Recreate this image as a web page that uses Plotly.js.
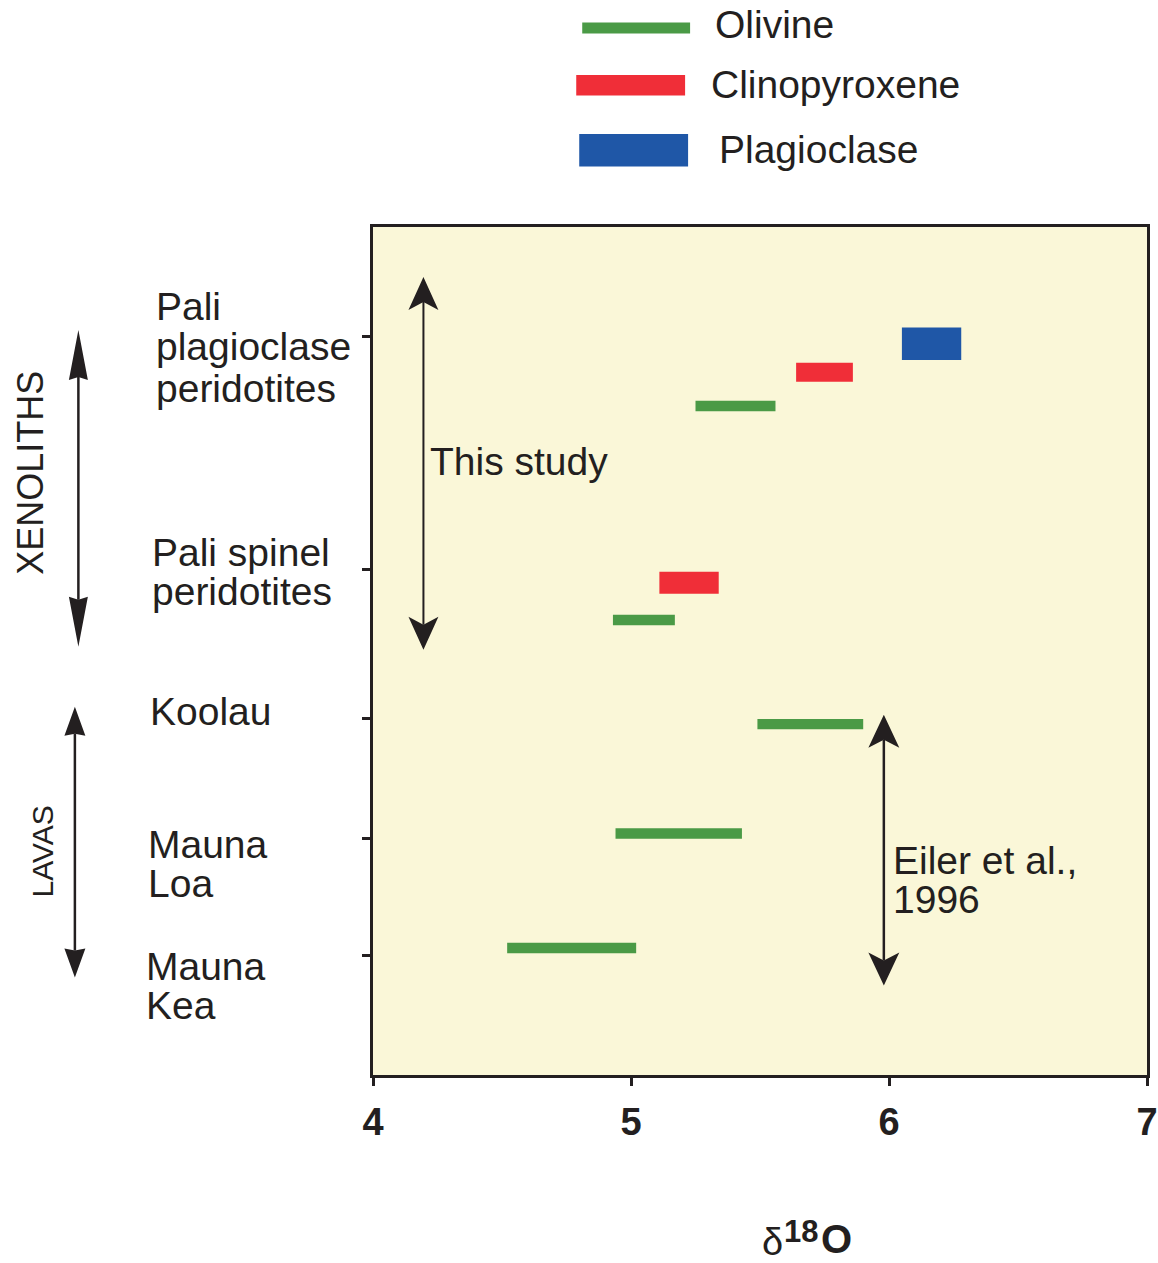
<!DOCTYPE html>
<html>
<head>
<meta charset="utf-8">
<script src="https://cdn.plot.ly/plotly-3.0.1.min.js"></script>
<style>html,body{margin:0;padding:0;background:#fff;}#chart{width:1158px;height:1263px;}</style>
</head>
<body>
<div id="chart"></div>
<script>
// ---- data ----
const categories = ['Pali\nplagioclase\nperidotites', 'Pali spinel\nperidotites', 'Koolau', 'Mauna\nLoa', 'Mauna\nKea'];
const categoryTickY = [7.40, 5.07, 3.57, 2.37, 1.20];
const xTicks = [4, 5, 6, 7];

const olivineY   = [6.705, 4.56, 3.517, 2.42, 1.272];
const olivineMin = [5.25, 4.93, 5.49, 4.94, 4.52];
const olivineMax = [5.56, 5.17, 5.90, 5.43, 5.02];

const cpxY   = [7.045, 4.935];
const cpxMin = [5.64, 5.11];
const cpxMax = [5.86, 5.34];

const plagY   = [7.33];
const plagMin = [6.05];
const plagMax = [6.28];

const legendNames = ['Olivine', 'Clinopyroxene', 'Plagioclase'];

// ---- geometry helpers ----
const W = 1158, H = 1263, L = 372.5, R = 1147.5, T = 227, B = 1075.5;
const fx = x => (x - L) / (R - L);
const fy = y => (B - y) / (B - T);
const INK = '#231F20';
const FONT = 'Liberation Sans, Arial, Helvetica, sans-serif';
const GREEN = '#4A9A46', RED = '#F02E38', BLUE = '#1F57A7';
const FS = 39;

function span(mn, mx) { return mx.map((v, i) => v - mn[i]); }

const traces = [
  { type: 'bar', orientation: 'h', y: olivineY, base: olivineMin, x: span(olivineMin, olivineMax),
    width: 0.105, marker: { color: GREEN, line: { width: 0 } }, name: legendNames[0], hoverinfo: 'skip' },
  { type: 'bar', orientation: 'h', y: cpxY, base: cpxMin, x: span(cpxMin, cpxMax),
    width: [0.19, 0.22], marker: { color: RED, line: { width: 0 } }, name: legendNames[1], hoverinfo: 'skip' },
  { type: 'bar', orientation: 'h', y: plagY, base: plagMin, x: span(plagMin, plagMax),
    width: 0.326, marker: { color: BLUE, line: { width: 0 } }, name: legendNames[2], hoverinfo: 'skip' }
];

const shapes = [];
const annotations = [];

function rectPx(x0, y0, x1, y1, color) {
  shapes.push({ type: 'rect', xref: 'paper', yref: 'paper', x0: fx(x0), x1: fx(x1), y0: fy(y1), y1: fy(y0),
    fillcolor: color, line: { width: 0 }, layer: 'above' });
}
function textPx(text, x, yMid, size, opts, fontExtra) {
  annotations.push(Object.assign({ xref: 'paper', yref: 'paper', x: fx(x), y: fy(yMid), text: text,
    showarrow: false, xanchor: 'left', yanchor: 'middle',
    font: Object.assign({ family: FONT, size: size, color: INK }, fontExtra || {}) }, opts || {}));
}
function doubleArrow(x, yTop, yBot, hl, hw, notch, lw) {
  shapes.push({ type: 'line', xref: 'paper', yref: 'paper', x0: fx(x), x1: fx(x),
    y0: fy(yTop + hl - notch), y1: fy(yBot - hl + notch), line: { color: INK, width: lw }, layer: 'above' });
  const head = (tip, dir) => {
    const b = tip + dir * hl, n = tip + dir * (hl - notch);
    return 'M' + fx(x) + ',' + fy(tip) + ' L' + fx(x + hw) + ',' + fy(b) + ' L' + fx(x) + ',' + fy(n) +
      ' L' + fx(x - hw) + ',' + fy(b) + ' Z';
  };
  shapes.push({ type: 'path', xref: 'paper', yref: 'paper', path: head(yTop, 1), fillcolor: INK, line: { width: 0 }, layer: 'above' });
  shapes.push({ type: 'path', xref: 'paper', yref: 'paper', path: head(yBot, -1), fillcolor: INK, line: { width: 0 }, layer: 'above' });
}

// legend (custom swatches)
rectPx(582, 22.5, 690, 33.5, GREEN);
rectPx(576, 75, 685, 95.5, RED);
rectPx(579, 134, 688, 166.5, BLUE);
textPx(legendNames[0], 713, 24, FS);
textPx(legendNames[1], 709, 84, FS);
textPx(legendNames[2], 717, 149, FS);

// category labels, each line placed at its baseline
const labelLeft = [153, 149, 147, 145, 143];
const labelBase = [[320.5, 360, 402], [566.5, 605], [725], [859, 898], [981, 1020]];
categories.forEach((c, i) => {
  c.split('\n').forEach((line, j) => {
    textPx(line, labelLeft[i], labelBase[i][j] - 0.35 * FS, FS);
  });
});

// group labels
annotations.push({ xref: 'paper', yref: 'paper', x: fx(30), y: fy(473), text: 'XENOLITHS', textangle: -90,
  showarrow: false, xanchor: 'center', yanchor: 'middle', font: { family: FONT, size: 36, color: INK } });
annotations.push({ xref: 'paper', yref: 'paper', x: fx(42), y: fy(852), text: 'LAVAS', textangle: -90,
  showarrow: false, xanchor: 'center', yanchor: 'middle', font: { family: FONT, size: 30, color: INK } });

// in-plot notes
textPx('This study', 428, 475 - 0.35 * FS, FS);
textPx('Eiler et al.,', 891, 875 - 0.35 * FS, FS);
textPx('1996', 891, 914 - 0.35 * FS, FS);

// arrows
doubleArrow(423, 277, 650, 33, 15, 8, 2);
doubleArrow(884, 715, 986, 33, 15.5, 8, 2.5);
doubleArrow(77.5, 330, 647, 50, 9.5, 3, 2.5);
doubleArrow(74, 707, 978, 29, 10.5, 2, 2.5);

// x-axis title: δ18O (delta plain, 18 raised, O bold)
textPx('δ', 760, 1243, 38);
textPx('18', 782, 1232, 31, {}, { weight: 'bold' });
textPx('O', 819, 1240, 40, {}, { weight: 'bold' });

const layout = {
  width: W, height: H,
  margin: { l: L, r: W - R, t: T, b: H - B, pad: 0 },
  paper_bgcolor: '#ffffff',
  plot_bgcolor: '#FAF7D8',
  showlegend: false,
  barmode: 'overlay',
  xaxis: {
    range: [4, 7], tickvals: xTicks, ticktext: xTicks.map(String),
    ticks: 'outside', ticklen: 8, tickwidth: 3, tickcolor: INK,
    showline: true, mirror: true, linewidth: 3, linecolor: INK,
    showgrid: false, zeroline: false,
    tickfont: { family: FONT, size: 38, color: INK, weight: 'bold' },
    ticklabelstandoff: 3, ticklabeloverflow: 'allow'
  },
  yaxis: {
    range: [0, 8.5], tickvals: categoryTickY,
    ticks: 'outside', ticklen: 8, tickwidth: 3, tickcolor: INK,
    showline: true, mirror: true, linewidth: 3, linecolor: INK,
    showgrid: false, zeroline: false, showticklabels: false
  },
  shapes: shapes,
  annotations: annotations
};

Plotly.newPlot('chart', traces, layout, { staticPlot: true, displayModeBar: false });
</script>
</body>
</html>
